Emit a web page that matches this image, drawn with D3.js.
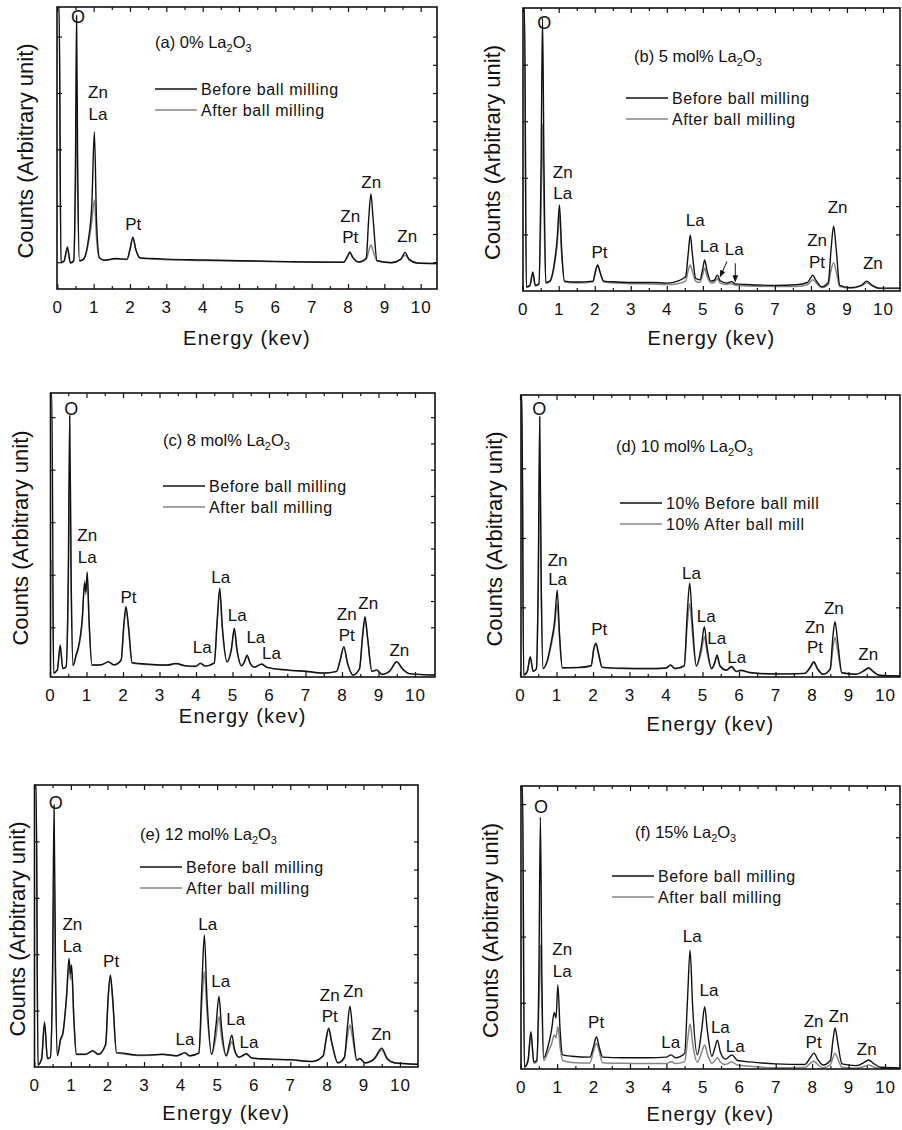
<!DOCTYPE html>
<html>
<head>
<meta charset="utf-8">
<script src="https://cdn.jsdelivr.net/npm/d3@7"></script>
<style>
  body { margin: 0; background: #fff; }
  svg { font-family: "Liberation Sans", Arial, sans-serif; }
</style>
</head>
<body>
<svg id="fig" width="902" height="1130"></svg>
<script>
// tick values
const X_TICKS = [0, 1, 2, 3, 4, 5, 6, 7, 8, 9, 10];
const X_MINOR = [0.5, 1.5, 2.5, 3.5, 4.5, 5.5, 6.5, 7.5, 8.5, 9.5];

const TITLES = ["(a) 0%", "(b) 5 mol%", "(c) 8 mol%", "(d) 10 mol%", "(e) 12 mol%", "(f) 15%"];
const LEGEND_STD = ["Before ball milling", "After ball milling"];
const LEGEND_D = ["10% Before ball mill", "10% After ball mill"];

// y ticks (counts, arbitrary; 0-100 = frame height)
const A_YTICKS = [9.5, 29.5, 49.5, 69.5, 89.5];
const B_YTICKS = [20, 40, 60, 80];
const C_YTICKS = [17.5, 36, 54.5, 73, 91.5];
const D_YTICKS = [24.7, 49.3, 74];
const E_YTICKS = [20, 40, 60, 80];
const F_YTICKS = [23.4, 46.8, 70.2, 93.6];

// spectra: [energy keV, counts]
const A_BEFORE = [[0.01,100],[0.05,100],[0.1,9.5],[0.18,9.8],[0.28,14.9],[0.36,9.3],[0.45,10],[0.5,45],[0.53,97],[0.56,45],[0.61,10],[0.72,10.5],[0.85,17],[0.95,30],[1.02,55.7],[1.08,24],[1.16,11],[1.3,10.2],[1.6,10.8],[1.92,10.6],[2.0,14],[2.08,18.4],[2.16,14],[2.28,11],[2.6,10.8],[3,10.6],[4,10.3],[5,10],[6,9.8],[7,9.6],[7.88,9.5],[7.98,11.5],[8.05,13.1],[8.12,11.5],[8.3,9.6],[8.5,11],[8.57,25],[8.63,33.7],[8.69,25],[8.8,10],[9.2,9.3],[9.45,10.5],[9.57,13],[9.68,10.5],[9.9,9.2],[10.45,9]];
const A_AFTER = [[0.01,100],[0.05,100],[0.1,9.3],[0.18,9.6],[0.28,14],[0.36,9.2],[0.45,9.8],[0.5,35],[0.53,68],[0.56,35],[0.61,10],[0.72,10.5],[0.85,16],[0.95,24],[1.02,31.6],[1.08,18],[1.16,11],[1.3,10.2],[1.6,10.6],[1.92,10.5],[2.0,14],[2.08,18],[2.16,14],[2.28,11],[2.6,10.6],[3,10.4],[4,10.1],[5,9.9],[6,9.7],[7,9.5],[7.88,9.5],[7.98,11.3],[8.05,12.8],[8.12,11.3],[8.3,9.5],[8.5,10.5],[8.57,13.5],[8.63,15.6],[8.69,13.5],[8.8,10],[9.2,9.4],[9.45,10.6],[9.57,12],[9.68,10.5],[9.9,9.2],[10.45,9]];

const B_BEFORE = [[0.01,100],[0.05,100],[0.1,1.5],[0.2,2],[0.28,6.7],[0.35,2],[0.45,2.5],[0.51,45],[0.55,96.5],[0.59,45],[0.64,3],[0.75,3.5],[0.88,10],[0.96,19],[1.02,30.4],[1.08,15],[1.16,3.5],[1.5,3.2],[1.95,3.5],[2.02,7],[2.08,9.2],[2.15,6.5],[2.25,3.5],[2.6,3.2],[3,3],[3.6,3],[4,2.8],[4.3,3.5],[4.52,5],[4.6,14],[4.65,19.8],[4.71,13],[4.8,4.5],[4.92,4],[5.0,8],[5.05,11],[5.11,7.5],[5.22,3.5],[5.32,3.8],[5.4,5.6],[5.48,3.6],[5.65,2.8],[5.8,3.3],[5.9,2.5],[6.2,2.3],[7,2],[7.6,2.2],[7.9,3],[8.0,4.8],[8.05,5.6],[8.12,4.2],[8.3,1.5],[8.48,3],[8.56,15],[8.63,23],[8.7,15],[8.8,2],[9.1,1.2],[9.4,2],[9.55,3.5],[9.7,2],[9.9,1],[10.47,1]];
const B_AFTER = [[0.01,100],[0.05,100],[0.1,1.3],[0.2,1.8],[0.28,6],[0.35,1.8],[0.45,2.3],[0.51,30],[0.55,59],[0.59,30],[0.64,2.8],[0.75,3.2],[0.88,9],[0.96,17],[1.02,27],[1.08,13],[1.16,3.2],[1.5,2.8],[1.95,3.2],[2.02,7],[2.08,9],[2.15,6.5],[2.25,3.2],[2.6,2.8],[3,2.6],[3.6,2.5],[4,2.3],[4.3,2.6],[4.52,3.5],[4.6,7.5],[4.65,9.2],[4.71,7],[4.8,3.5],[4.92,3],[5.0,6],[5.05,8],[5.11,5.5],[5.22,2.8],[5.32,3],[5.4,4.3],[5.48,2.8],[5.65,2.3],[5.8,2.6],[5.9,2],[6.2,1.8],[7,1.6],[7.6,1.6],[7.9,2.2],[8.0,3.5],[8.05,4],[8.12,3.2],[8.3,1.2],[8.48,2.2],[8.56,7.5],[8.63,10],[8.7,7],[8.8,1.6],[9.1,1],[9.4,1.8],[9.55,2.8],[9.7,1.8],[9.9,0.9],[10.47,0.9]];

const C_BEFORE = [[0.01,100],[0.05,100],[0.1,1.4],[0.2,2.5],[0.28,11.3],[0.35,3],[0.44,3.6],[0.5,35],[0.54,92],[0.58,35],[0.63,4],[0.72,8],[0.78,10.7],[0.88,20],[0.95,33],[0.98,30],[1.02,37],[1.07,20],[1.15,4.2],[1.4,4.3],[1.6,5.4],[1.75,4.3],[1.95,6],[2.02,18],[2.08,24.8],[2.15,18],[2.25,5],[2.35,4.9],[2.8,4.4],[3.2,4.2],[3.45,4.8],[3.7,4],[4.0,3.8],[4.12,4.9],[4.25,3.9],[4.5,5],[4.58,20],[4.65,31.3],[4.72,18],[4.85,5.4],[4.97,10],[5.05,17.2],[5.12,10],[5.25,4],[5.33,5.5],[5.4,7.7],[5.48,5],[5.6,3.5],[5.8,4.6],[5.95,3.4],[6.5,2.5],[7,2],[7.5,1.4],[7.85,2],[7.95,6],[8.05,10.7],[8.15,5],[8.3,0.7],[8.48,3],[8.56,14],[8.63,21.2],[8.7,14],[8.82,2],[8.95,2.5],[9.1,0.9],[9.3,2],[9.5,5.4],[9.65,3],[9.85,1.2],[10.55,0.7]];
const C_AFTER = [[0.01,41],[0.05,41],[0.1,1.4],[0.2,2.4],[0.28,10.5],[0.35,3],[0.44,3.5],[0.5,30],[0.54,72],[0.58,30],[0.63,4],[0.72,7.5],[0.78,10],[0.88,19],[0.95,34],[0.98,29],[1.02,35],[1.07,19],[1.15,4.1],[1.4,4.2],[1.6,5.2],[1.75,4.2],[1.95,6],[2.02,17],[2.08,24],[2.15,17],[2.25,5],[2.35,4.7],[2.8,4.3],[3.2,4.1],[3.45,4.6],[3.7,3.9],[4.0,3.7],[4.12,4.7],[4.25,3.8],[4.5,4.8],[4.58,19],[4.65,30],[4.72,17],[4.85,5.2],[4.97,9.5],[5.05,16.5],[5.12,9.5],[5.25,3.9],[5.33,5.3],[5.4,7.3],[5.48,4.8],[5.6,3.4],[5.8,4.4],[5.95,3.3],[6.5,2.4],[7,1.9],[7.5,1.3],[7.85,1.9],[7.95,5.8],[8.05,10.3],[8.15,4.8],[8.3,0.7],[8.48,2.8],[8.56,13.5],[8.63,20.5],[8.7,13.5],[8.82,1.9],[8.95,2.4],[9.1,0.9],[9.3,1.9],[9.5,5.2],[9.65,2.9],[9.85,1.1],[10.55,0.6]];

const D_BEFORE = [[0.01,100],[0.05,100],[0.1,0.7],[0.2,2],[0.28,7.2],[0.36,2],[0.45,3],[0.5,35],[0.54,92.3],[0.58,35],[0.63,3],[0.75,6],[0.85,12],[0.95,20],[1.02,30.8],[1.08,16],[1.16,3.3],[1.6,3.4],[1.95,4],[2.02,10],[2.08,12],[2.15,8.5],[2.25,3.5],[2.8,3.1],[3.5,3],[4.0,3.2],[4.12,4.3],[4.25,3],[4.5,4],[4.58,22],[4.65,33.3],[4.72,20],[4.83,4],[4.97,11],[5.05,17.8],[5.12,11],[5.25,3],[5.33,5],[5.4,7.8],[5.48,4],[5.65,2.5],[5.8,3.7],[5.92,2],[6.05,2.4],[6.3,1.6],[7,1.1],[7.8,1.3],[7.95,3.5],[8.05,5.4],[8.15,3],[8.3,1],[8.5,3],[8.57,14],[8.63,19.6],[8.7,13],[8.82,1.5],[9.2,1],[9.45,2.5],[9.55,3.3],[9.65,2.3],[9.85,0.6],[10.45,0.35]];
const D_AFTER = [[0.01,100],[0.05,100],[0.1,0.7],[0.2,1.9],[0.28,6.8],[0.36,2],[0.45,2.9],[0.5,32],[0.54,77],[0.58,32],[0.63,3],[0.75,5.5],[0.85,11],[0.95,18],[1.02,26],[1.08,14],[1.16,3.2],[1.6,3.3],[1.95,3.9],[2.02,9.5],[2.08,11.5],[2.15,8],[2.25,3.4],[2.8,3],[3.5,2.9],[4.0,3.1],[4.12,4.1],[4.25,2.9],[4.5,3.8],[4.58,18],[4.65,26],[4.72,16],[4.83,3.8],[4.97,9],[5.05,14.3],[5.12,9],[5.25,2.9],[5.33,4.6],[5.4,7],[5.48,3.8],[5.65,2.4],[5.8,3.4],[5.92,1.9],[6.05,2.2],[6.3,1.5],[7,1],[7.8,1.2],[7.95,3.2],[8.05,5],[8.15,2.8],[8.3,0.9],[8.5,2.6],[8.57,10],[8.63,14],[8.7,9.5],[8.82,1.4],[9.2,0.9],[9.45,2.3],[9.55,3],[9.65,2.1],[9.85,0.5],[10.45,0.3]];

const E_BEFORE = [[0.01,100],[0.05,100],[0.1,0.7],[0.2,3],[0.28,16],[0.36,3],[0.44,3.5],[0.5,35],[0.54,92.9],[0.58,35],[0.63,4],[0.72,10],[0.78,12],[0.88,25],[0.95,38.5],[0.99,33],[1.02,36.2],[1.08,18],[1.15,4.5],[1.4,4.5],[1.6,5.8],[1.75,4.5],[1.95,8],[2.02,25],[2.08,32.6],[2.14,25],[2.25,5],[2.35,5],[2.8,4.2],[3.2,4.3],[3.5,4.5],[3.9,4],[4.12,5.1],[4.25,4],[4.5,5],[4.58,28],[4.65,46.8],[4.72,25],[4.85,4.5],[4.97,15],[5.05,25],[5.12,14],[5.25,4],[5.33,8],[5.4,11.3],[5.48,6],[5.6,3.5],[5.8,4.7],[5.95,3.2],[6.5,2.8],[7,2.6],[7.6,2],[7.9,4],[7.98,10],[8.05,13.8],[8.13,9],[8.3,1.5],[8.48,3.5],[8.56,14],[8.63,21.6],[8.7,14],[8.82,2.5],[8.9,3],[9.05,1.5],[9.3,3],[9.5,6.7],[9.65,3],[9.85,1.5],[10.49,1]];
const E_AFTER = [[0.01,100],[0.05,100],[0.1,0.7],[0.2,2.8],[0.28,15],[0.36,3],[0.44,3.4],[0.5,30],[0.54,69],[0.58,30],[0.63,4],[0.72,9.5],[0.78,11.5],[0.88,24],[0.95,36],[0.99,31],[1.02,34],[1.08,17],[1.15,4.4],[1.4,4.4],[1.6,5.6],[1.75,4.4],[1.95,7.8],[2.02,24],[2.08,32],[2.14,24],[2.25,5],[2.35,4.8],[2.8,4.1],[3.2,4.2],[3.5,4.4],[3.9,3.9],[4.12,4.9],[4.25,3.9],[4.5,4.8],[4.58,22],[4.65,33.8],[4.72,20],[4.85,4.4],[4.97,11],[5.05,17.8],[5.12,10.5],[5.25,3.9],[5.33,6.5],[5.4,9],[5.48,5.5],[5.6,3.4],[5.8,4.5],[5.95,3.1],[6.5,2.7],[7,2.5],[7.6,1.9],[7.9,3.8],[7.98,9.6],[8.05,13.5],[8.13,8.8],[8.3,1.4],[8.48,3.2],[8.56,10.5],[8.63,14.9],[8.7,10.5],[8.82,2.4],[8.9,2.9],[9.05,1.4],[9.3,2.8],[9.5,6],[9.65,2.8],[9.85,1.4],[10.49,0.9]];

const F_BEFORE = [[0.01,100],[0.05,100],[0.1,0.7],[0.2,3],[0.28,13.2],[0.36,2.5],[0.44,3],[0.5,35],[0.54,89],[0.58,35],[0.63,4],[0.75,8],[0.85,14],[0.92,20],[0.97,18],[1.02,29.7],[1.08,14],[1.15,5],[1.4,4.5],[1.9,4.2],[2.0,8],[2.08,11.4],[2.15,8],[2.25,4.2],[2.8,4],[3.5,4],[4.0,4.2],[4.12,5],[4.25,4],[4.5,5.5],[4.58,25],[4.65,42],[4.72,22],[4.85,5],[4.97,14],[5.05,22],[5.12,14],[5.25,4.5],[5.33,7.5],[5.4,10.2],[5.48,6],[5.62,3.5],[5.8,5],[5.95,3],[6.3,2.5],[7,1.8],[7.8,1.6],[7.95,4],[8.05,5.6],[8.15,3.5],[8.3,1.4],[8.5,3],[8.57,10],[8.63,14.5],[8.7,9.5],[8.82,1.8],[9.2,1.2],[9.45,2.5],[9.55,3.2],[9.68,2],[9.9,0.6],[10.45,0.4]];
const F_AFTER = [[0.01,100],[0.05,100],[0.1,0.6],[0.2,2.5],[0.28,12.5],[0.36,2],[0.44,2.5],[0.5,22],[0.54,43.8],[0.58,22],[0.63,3],[0.75,6],[0.85,9],[0.92,12],[0.97,11],[1.02,15],[1.08,8],[1.15,3],[1.4,2.3],[1.9,2.1],[2.0,6.5],[2.08,9],[2.15,6.5],[2.25,2.2],[2.8,2],[3.5,1.9],[4.0,1.9],[4.12,2.6],[4.25,1.9],[4.5,2.6],[4.58,10],[4.65,16],[4.72,9],[4.85,2.4],[4.97,6],[5.05,8.5],[5.12,5.5],[5.25,2],[5.33,3],[5.4,4],[5.48,2.5],[5.62,1.6],[5.8,2.5],[5.95,1.4],[6.3,1],[7,0.4],[7.8,0.5],[7.95,2],[8.05,2.7],[8.15,1.6],[8.3,0.4],[8.5,1.5],[8.57,4],[8.63,5.6],[8.7,3.8],[8.82,0.6],[9.2,0.3],[9.45,1],[9.55,1.4],[9.68,0.8],[9.9,0.2],[10.45,0.2]];

// peak labels: [text, energy, counts]
const A_LABELS = [["O",0.57,94.3],["Zn",1.12,67.7],["La",1.12,59.9],["Pt",2.09,20.9],["Zn",8.06,23.8],["Pt",8.06,16.3],["Zn",8.64,35.8],["Zn",9.63,16.7]];
const B_LABELS = [["O",0.6,92.6],["Zn",1.11,39.9],["La",1.11,32.5],["Pt",2.13,11.7],["La",4.79,23],["La",5.18,13.8],["La",5.87,12.7],["Zn",8.17,15.9],["Pt",8.17,8.1],["Zn",8.74,27.6],["Zn",9.72,7.8]];
const B_ARROWS = [[[5.67,10.4],[5.48,5.1]], [[5.9,9.8],[5.9,3.3]]];
const C_LABELS = [["O",0.58,92.3],["Zn",1.02,48],["La",1.02,40],["Pt",2.15,26],["La",4.17,8.3],["La",4.68,33],["La",5.13,19.8],["La",5.64,12.1],["La",6.07,6.2],["Zn",8.13,20],["Pt",8.13,12.8],["Zn",8.72,24],["Zn",9.57,7.4]];
const D_LABELS = [["O",0.53,92.9],["Zn",1.03,39.4],["La",1.03,32.6],["Pt",2.17,14.9],["La",4.7,34.6],["La",5.1,19.6],["La",5.39,11.7],["La",5.94,5.1],["Zn",8.08,15.5],["Pt",8.08,8.4],["Zn",8.6,22.3],["Zn",9.54,6]];
const E_LABELS = [["O",0.59,91.4],["Zn",1.04,48.6],["La",1.04,40.9],["Pt",2.1,35.4],["La",4.12,7.8],["La",4.74,48.6],["La",5.1,28.3],["La",5.51,14.9],["La",5.87,6.6],["Zn",8.08,23.5],["Pt",8.08,16.1],["Zn",8.72,24.9],["Zn",9.49,9.6]];
const F_LABELS = [["O",0.56,90.3],["Zn",1.14,40.3],["La",1.14,32.6],["Pt",2.07,14.4],["La",4.12,7.3],["La",4.71,45],["La",5.17,25.8],["La",5.48,12.6],["La",5.89,6.1],["Zn",8.04,14.9],["Pt",8.04,7.3],["Zn",8.73,16.7],["Zn",9.5,4.9]];

const BLACK = "#111";
const GRAY = "#858585";

// panel layout (pixels)
const PANELS = [
  {x0: 57.3, x10: 420.7, left: 57, right: 437, top: 7, bottom: 289, before: A_BEFORE, after: A_AFTER, labels: A_LABELS, arrows: [], yt: A_YTICKS,
   title: TITLES[0], tx: 155, ty: 48, legend: LEGEND_STD, lx: 155, ly: 89, xTitleY: 345, yTitleX: 33},
  {x0: 522.7, x10: 883, left: 523, right: 900, top: 8, bottom: 291, before: B_BEFORE, after: B_AFTER, labels: B_LABELS, arrows: B_ARROWS, yt: B_YTICKS,
   title: TITLES[1], tx: 634, ty: 62, legend: LEGEND_STD, lx: 626, ly: 98, xTitleY: 345, yTitleX: 500},
  {x0: 50, x10: 415, left: 50.5, right: 435, top: 393, bottom: 677, before: C_BEFORE, after: C_AFTER, labels: C_LABELS, arrows: [], yt: C_YTICKS,
   title: TITLES[2], tx: 163, ty: 446, legend: LEGEND_STD, lx: 163, ly: 486, xTitleY: 723, yTitleX: 28},
  {x0: 520, x10: 885, left: 521, right: 900, top: 395, bottom: 677, before: D_BEFORE, after: D_AFTER, labels: D_LABELS, arrows: [], yt: D_YTICKS,
   title: TITLES[3], tx: 616, ty: 452, legend: LEGEND_D, lx: 620, ly: 503, xTitleY: 731, yTitleX: 502},
  {x0: 34.3, x10: 400, left: 34.5, right: 418, top: 785, bottom: 1067, before: E_BEFORE, after: E_AFTER, labels: E_LABELS, arrows: [], yt: E_YTICKS,
   title: TITLES[4], tx: 140, ty: 840, legend: LEGEND_STD, lx: 140, ly: 867, xTitleY: 1120, yTitleX: 25},
  {x0: 520.7, x10: 885, left: 521, right: 900, top: 786, bottom: 1069, before: F_BEFORE, after: F_AFTER, labels: F_LABELS, arrows: [], yt: F_YTICKS,
   title: TITLES[5], tx: 635, ty: 838, legend: LEGEND_STD, lx: 612, ly: 876, xTitleY: 1121, yTitleX: 498}
];

const SVG = d3.select("#fig");

SVG.append("defs").append("marker")
    .attr("id", "arrow")
    .attr("viewBox", "0 0 10 10")
    .attr("refX", 9).attr("refY", 5)
    .attr("markerWidth", 7).attr("markerHeight", 7)
    .attr("orient", "auto-start-reverse")
  .append("path")
    .attr("d", "M0,1 L10,5 L0,9 z")
    .attr("fill", BLACK);

PANELS.forEach((p, i) => {
  const X_SCALE = d3.scaleLinear().domain([0, 10]).range([p.x0, p.x10]);
  const Y_SCALE = d3.scaleLinear().domain([0, 100]).range([p.bottom, p.top]);
  const G = SVG.append("g");

  // clip
  const clipId = "clip" + i;
  SVG.select("defs").append("clipPath").attr("id", clipId)
    .append("rect")
      .attr("x", p.left).attr("y", p.top)
      .attr("width", p.right - p.left).attr("height", p.bottom - p.top);

  // spectra
  const line = d3.line()
    .x(d => X_SCALE(d[0]))
    .y(d => Y_SCALE(d[1]))
    .curve(d3.curveMonotoneX);

  const plot = G.append("g").attr("clip-path", "url(#" + clipId + ")");
  plot.append("path").datum(p.after)
    .attr("d", line).attr("fill", "none")
    .attr("stroke", GRAY).attr("stroke-width", 1.5);
  plot.append("path").datum(p.before)
    .attr("d", line).attr("fill", "none")
    .attr("stroke", BLACK).attr("stroke-width", 1.4);

  // x axes (ticks inward)
  const bottomAxis = G.append("g")
      .attr("transform", "translate(0," + p.bottom + ")")
      .call(d3.axisBottom(X_SCALE).tickValues(X_TICKS)
              .tickSizeInner(-5).tickSizeOuter(0).tickPadding(12)
              .tickFormat(d3.format("d")));
  bottomAxis.select(".domain").remove();
  bottomAxis.selectAll("text")
      .attr("font-size", 17).attr("letter-spacing", 1)
      .attr("font-family", "Liberation Sans, Arial, sans-serif")
      .attr("fill", BLACK);

  const bottomMinor = G.append("g")
      .attr("transform", "translate(0," + p.bottom + ")")
      .call(d3.axisBottom(X_SCALE).tickValues(X_MINOR)
              .tickSizeInner(-3).tickSizeOuter(0).tickFormat(""));
  bottomMinor.select(".domain").remove();

  [X_TICKS, X_MINOR].forEach((vals, k) => {
    const topAxis = G.append("g")
        .attr("transform", "translate(0," + p.top + ")")
        .call(d3.axisTop(X_SCALE).tickValues(vals)
                .tickSizeInner(k === 0 ? -5 : -3).tickSizeOuter(0).tickFormat(""));
    topAxis.select(".domain").remove();
  });

  // y axes (no labels)
  const yMinor = d3.pairs(p.yt).map(d => (d[0] + d[1]) / 2);
  const leftAxis = G.append("g")
      .attr("transform", "translate(" + p.left + ",0)")
      .call(d3.axisLeft(Y_SCALE).tickValues(p.yt)
              .tickSizeInner(-5).tickSizeOuter(0).tickFormat(""));
  leftAxis.select(".domain").remove();
  const rightAxis = G.append("g")
      .attr("transform", "translate(" + p.right + ",0)")
      .call(d3.axisRight(Y_SCALE).tickValues(p.yt.concat(yMinor))
              .tickSizeInner(-4).tickSizeOuter(0).tickFormat(""));
  rightAxis.select(".domain").remove();

  G.selectAll(".tick line").attr("stroke", BLACK).attr("stroke-width", 1.2);

  // frame
  G.append("rect")
    .attr("x", p.left).attr("y", p.top)
    .attr("width", p.right - p.left).attr("height", p.bottom - p.top)
    .attr("fill", "none").attr("stroke", BLACK).attr("stroke-width", 1.6);

  // peak labels
  G.selectAll(".peak")
    .data(p.labels)
    .enter()
    .append("text")
      .attr("x", d => X_SCALE(d[1]))
      .attr("y", d => Y_SCALE(d[2]))
      .attr("text-anchor", "middle")
      .attr("font-size", d => d[0] === "O" ? 18 : 17)
      .attr("fill", BLACK)
      .text(d => d[0]);

  // arrows
  G.selectAll(".arrow")
    .data(p.arrows)
    .enter()
    .append("line")
      .attr("x1", d => X_SCALE(d[0][0])).attr("y1", d => Y_SCALE(d[0][1]))
      .attr("x2", d => X_SCALE(d[1][0])).attr("y2", d => Y_SCALE(d[1][1]))
      .attr("stroke", BLACK).attr("stroke-width", 1)
      .attr("marker-end", "url(#arrow)");

  // sample title with subscripts
  const t = G.append("text")
      .attr("x", p.tx).attr("y", p.ty)
      .attr("font-size", 16.5).attr("fill", BLACK);
  t.append("tspan").text(p.title + " La");
  t.append("tspan").attr("font-size", 11).attr("dy", 4).text("2");
  t.append("tspan").attr("dy", -4).text("O");
  t.append("tspan").attr("font-size", 11).attr("dy", 4).text("3");

  // legend
  p.legend.forEach((txt, k) => {
    const yy = p.ly + k * 21;
    G.append("line")
      .attr("x1", p.lx).attr("x2", p.lx + 42)
      .attr("y1", yy).attr("y2", yy)
      .attr("stroke", k === 0 ? BLACK : GRAY).attr("stroke-width", 1.3);
    G.append("text")
      .attr("x", p.lx + 46).attr("y", yy + 6)
      .attr("font-size", 16).attr("letter-spacing", 0.6)
      .attr("fill", BLACK)
      .text(txt);
  });

  // axis titles
  G.append("text")
    .attr("x", (p.left + p.right) / 2).attr("y", p.xTitleY)
    .attr("text-anchor", "middle")
    .attr("font-size", 20).attr("letter-spacing", 1.2)
    .attr("fill", BLACK)
    .text("Energy (kev)");

  G.append("text")
    .attr("transform", "translate(" + p.yTitleX + "," + ((p.top + p.bottom) / 2 + 3) + ") rotate(-90)")
    .attr("text-anchor", "middle")
    .attr("font-size", 22)
    .attr("fill", BLACK)
    .text("Counts (Arbitrary unit)");
});
</script>
</body>
</html>
